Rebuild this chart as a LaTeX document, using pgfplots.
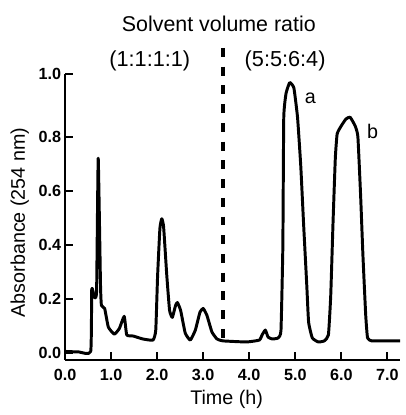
\documentclass[border=0pt]{standalone}
\usepackage{pgfplots}
\pgfplotsset{compat=1.18}
\usepackage{fontspec}
\setmainfont{Liberation Sans}
\begin{document}
\begin{tikzpicture}
% frame of the picture (1 px = 0.5 pt)
\path (-33pt,-25pt) rectangle (170pt,182.5pt);
\begin{axis}[
  scale only axis,
  width=170pt, height=145pt,
  xmin=0, xmax=7.28,
  ymin=-0.026, ymax=1.032,
  axis lines=left,
  axis line style={-, line width=1pt},
  clip=false,
  xtick={0,1,2,3,4,5,6,7},
  xticklabels={0.0,1.0,2.0,3.0,4.0,5.0,6.0,7.0},
  ytick={0,0.2,0.4,0.6,0.8,1.032},
  yticklabels={0.0,0.2,0.4,0.6,0.8,1.0},
  tick align=inside,
  major tick length=4pt,
  tick style={line width=1pt, black},
  ticklabel style={font=\fontsize{8.2}{9}\selectfont\bfseries},
  yticklabel style={xshift=1.5pt},
  xticklabel style={yshift=-1pt},
  xlabel={Time (h)},
  ylabel={Absorbance (254 nm)},
  label style={font=\fontsize{10}{12}\selectfont},
  xlabel style={at={(axis description cs:0.482,-0.138)}, anchor=center},
  ylabel style={at={(axis description cs:-0.135,0.48)}, anchor=center},
]
\addplot[black, line width=1.5pt, line join=round, smooth, tension=0.25] coordinates {
(0.00,0.005) (0.30,0.003) (0.557,0.005) (0.58,0.237) (0.64,0.204) (0.685,0.23)
(0.72,0.72) (0.77,0.25) (0.79,0.175) (0.86,0.164) (0.94,0.095) (1.07,0.069)
(1.18,0.09) (1.285,0.135) (1.34,0.066) (1.48,0.062) (1.69,0.051) (1.91,0.047)
(1.97,0.084) (2.01,0.285) (2.06,0.46) (2.10,0.496) (2.14,0.467) (2.21,0.285)
(2.27,0.157) (2.33,0.131) (2.40,0.175) (2.44,0.186) (2.51,0.157) (2.61,0.073)
(2.72,0.047) (2.83,0.084) (2.93,0.15) (3.00,0.164) (3.08,0.139) (3.19,0.077)
(3.30,0.051) (3.43,0.044) (3.94,0.04) (4.22,0.047) (4.28,0.066) (4.35,0.084)
(4.41,0.058) (4.50,0.051) (4.63,0.055) (4.69,0.084) (4.73,0.39) (4.75,0.87)
(4.80,0.96) (4.88,1.00) (4.97,0.98) (5.05,0.87) (5.12,0.69) (5.18,0.48)
(5.25,0.25) (5.29,0.113) (5.37,0.055) (5.50,0.04) (5.63,0.044) (5.72,0.066)
(5.77,0.21) (5.82,0.48) (5.87,0.72) (5.91,0.81) (6.00,0.84) (6.10,0.865)
(6.19,0.872) (6.30,0.84) (6.36,0.80) (6.42,0.58) (6.47,0.36) (6.53,0.14)
(6.57,0.055) (6.66,0.044) (6.94,0.044) (7.28,0.044)
};
% solvent change
\addplot[black, line width=1.6pt, dash pattern=on 4.5pt off 5pt] coordinates {(3.43,1.128) (3.43,0.045)};
\node[font=\fontsize{10.85}{12}\selectfont] at (axis cs:3.34,1.217) {Solvent volume ratio};
\node[font=\fontsize{11}{12}\selectfont] at (axis cs:1.84,1.082) {(1:1:1:1)};
\node[font=\fontsize{11}{12}\selectfont] at (axis cs:4.78,1.082) {(5:5:6:4)};
\node[font=\fontsize{10}{12}\selectfont] at (axis cs:5.33,0.94) {a};
\node[font=\fontsize{10}{12}\selectfont] at (axis cs:6.68,0.82) {b};
\end{axis}
\end{tikzpicture}
\end{document}
